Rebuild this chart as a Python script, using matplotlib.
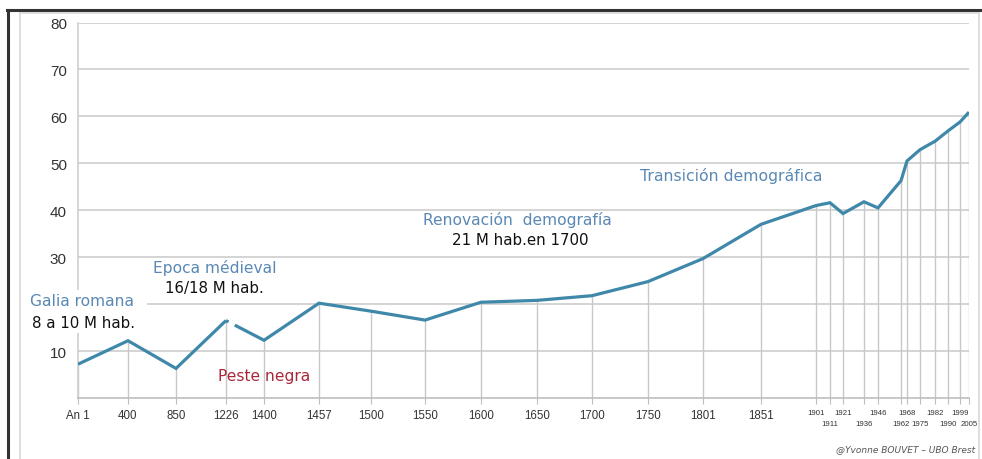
import matplotlib
matplotlib.use("Agg")
import matplotlib.pyplot as plt
import matplotlib.patches as mpatches
import numpy as np

# population of France (millions) by year
years = [1, 400, 850, 1226, 1400, 1457, 1500, 1550, 1600, 1650, 1700, 1750,
         1801, 1851, 1901, 1911, 1921, 1936, 1946, 1962, 1968, 1975, 1982,
         1990, 1999, 2005]
population = [7.2, 12.2, 6.3, 16.5, 12.3, 20.2, 18.5, 16.6, 20.4, 20.8, 21.8,
              24.8, 29.7, 37.0, 41.0, 41.6, 39.3, 41.8, 40.5, 46.3, 50.5,
              52.9, 54.7, 56.9, 58.8, 60.9]
# first row of year labels / second (staggered) row
row1_years = [1, 400, 850, 1226, 1400, 1457, 1500, 1550, 1600, 1650, 1700,
              1750, 1801, 1851, 1901, 1921, 1946, 1968, 1982, 1999]
row1_labels = ["An 1", "400", "850", "1226", "1400", "1457", "1500", "1550",
               "1600", "1650", "1700", "1750", "1801", "1851", "1901", "1921",
               "1946", "1968", "1982", "1999"]
row2_years = [1911, 1936, 1962, 1975, 1990, 2005]
row2_labels = ["1911", "1936", "1962", "1975", "1990", "2005"]
y_ticks = [0, 10, 20, 30, 40, 50, 60, 70, 80]
y_labels = ["", "10", "", "30", "40", "50", "60", "70", "80"]

# the time axis of the original is not linear: piecewise scale anchors
scale_years = [1, 400, 850, 1226, 1400, 1457, 1500, 1550, 1600, 1650, 1700,
               1750, 1801, 1851, 1901, 1911, 1921, 1936, 1946, 1962, 1968,
               1975, 1982, 1990, 1999, 2005]
scale_pos = [78, 128, 176, 226, 264, 319, 371, 425, 481, 537, 592, 648, 703,
             761, 816, 830, 843, 864, 878, 901, 907, 920, 935, 948, 960, 969]

LINE = "#3f88aa"
BLUE_TXT = "#5a88b4"
GRID = "#d4d4d4"
TICKFONT = ["Liberation Sans", "DejaVu Sans"]

W, H = 982, 460
fig = plt.figure(figsize=(W / 100, H / 100), dpi=100)
fig.patch.set_facecolor("white")


def fx(px):
    return px / W


def fy(py):
    return 1 - py / H


ax = fig.add_axes([fx(78), fy(399), fx(969) - fx(78), fy(23.5) - fy(399)])

fwd = lambda x: np.interp(x, scale_years, scale_pos)
inv = lambda p: np.interp(p, scale_pos, scale_years)
ax.set_xscale("function", functions=(fwd, inv))
ax.set_xlim(1, 2005)
ax.set_ylim(0, 80)

# grid + drop lines
for v in y_ticks[1:]:
    ax.axhline(v, color=GRID, lw=1.4, zorder=1)
ax.vlines(years, 0, population, colors="#c8c8c8", lw=1.0, zorder=1)

# curve (small break right after 1226 as in the original)
LW = 2.3
ax.plot(years[:4], population[:4], color=LINE, lw=LW, zorder=3,
        solid_joinstyle="miter", solid_capstyle="butt")
ax.plot(years[3:], population[3:], color=LINE, lw=LW, zorder=3,
        linestyle=(0, (0.9, 2.2, 2000, 1)), dash_capstyle="butt",
        dash_joinstyle="miter")

for s in ["top", "right"]:
    ax.spines[s].set_visible(False)
ax.spines["left"].set_color("#cfcfcf")
ax.spines["bottom"].set_color("#bdbdbd")
ax.spines["left"].set_linewidth(1.2)
ax.spines["bottom"].set_linewidth(1.2)

ax.set_yticks(y_ticks)
ax.set_yticklabels(y_labels, family=TICKFONT, fontsize=11, color="#333333")
ax.tick_params(axis="y", length=0, pad=8)

ax.set_xticks(row1_years)
ax.set_xticklabels(row1_labels, family=TICKFONT, fontsize=8.3, color="#333333")
ax.set_xticks(row2_years, minor=True)
ax.set_xticklabels(row2_labels, minor=True, family=TICKFONT, fontsize=5.6,
                   color="#333333")
ax.tick_params(axis="x", which="major", length=4, width=0.8, color="#bdbdbd",
               pad=4)
ax.tick_params(axis="x", which="minor", length=4, width=0.8, color="#bdbdbd",
               pad=12)
for yr, lab in zip(row1_years, ax.get_xticklabels()):
    if yr >= 1901:
        lab.set_fontsize(5.6)

# white block behind the "Galia romana" note (hides grid and axis there)
fig.add_artist(mpatches.Rectangle((fx(24), fy(334)), fx(147) - fx(24),
                                  fy(291) - fy(334), facecolor="white",
                                  edgecolor="none", zorder=4))

# annotations
TXT = dict(family="DejaVu Sans", va="center")
fig.text(fx(30), fy(302), "Galia romana", color=BLUE_TXT, fontsize=11.2,
         zorder=5, **TXT)
fig.text(fx(32), fy(323), "8 a 10 M hab.", color="#111111", fontsize=10.8,
         zorder=5, **TXT)
fig.text(fx(153), fy(268), "Epoca médieval", color=BLUE_TXT, fontsize=11.2,
         zorder=5, **TXT)
fig.text(fx(165), fy(288), "16/18 M hab.", color="#111111", fontsize=10.8,
         zorder=5, **TXT)
fig.text(fx(218), fy(376), "Peste negra", color="#a8283a", fontsize=11.2,
         zorder=5, **TXT)
fig.text(fx(423), fy(220), "Renovación  demografía", color=BLUE_TXT,
         fontsize=11.2, zorder=5, **TXT)
fig.text(fx(452), fy(241), "21 M hab.en 1700", color="#111111", fontsize=10.8,
         zorder=5, **TXT)
fig.text(fx(640), fy(176), "Transición demográfica", color=BLUE_TXT,
         fontsize=11.3, zorder=5, **TXT)
fig.text(fx(975), fy(450), "@Yvonne BOUVET – UBO Brest", color="#555555",
         fontsize=6.5, style="italic", ha="right", va="center",
         family="DejaVu Sans")

# picture frame
fig.add_artist(plt.Line2D([fx(7), fx(982)], [fy(10.5), fy(10.5)],
                          color="#333333", lw=2.2))
fig.add_artist(plt.Line2D([fx(7.5), fx(7.5)], [fy(10.5), fy(460)],
                          color="#333333", lw=2.2))
fig.add_artist(plt.Line2D([fx(20), fx(979)], [fy(13.5), fy(13.5)],
                          color="#d8d8d8", lw=1.2))
fig.add_artist(plt.Line2D([fx(20), fx(20)], [fy(13.5), fy(460)],
                          color="#d8d8d8", lw=1.2))
fig.add_artist(plt.Line2D([fx(979), fx(979)], [fy(13.5), fy(460)],
                          color="#d8d8d8", lw=1.2))

fig.savefig("out.png", dpi=100, facecolor="white")
